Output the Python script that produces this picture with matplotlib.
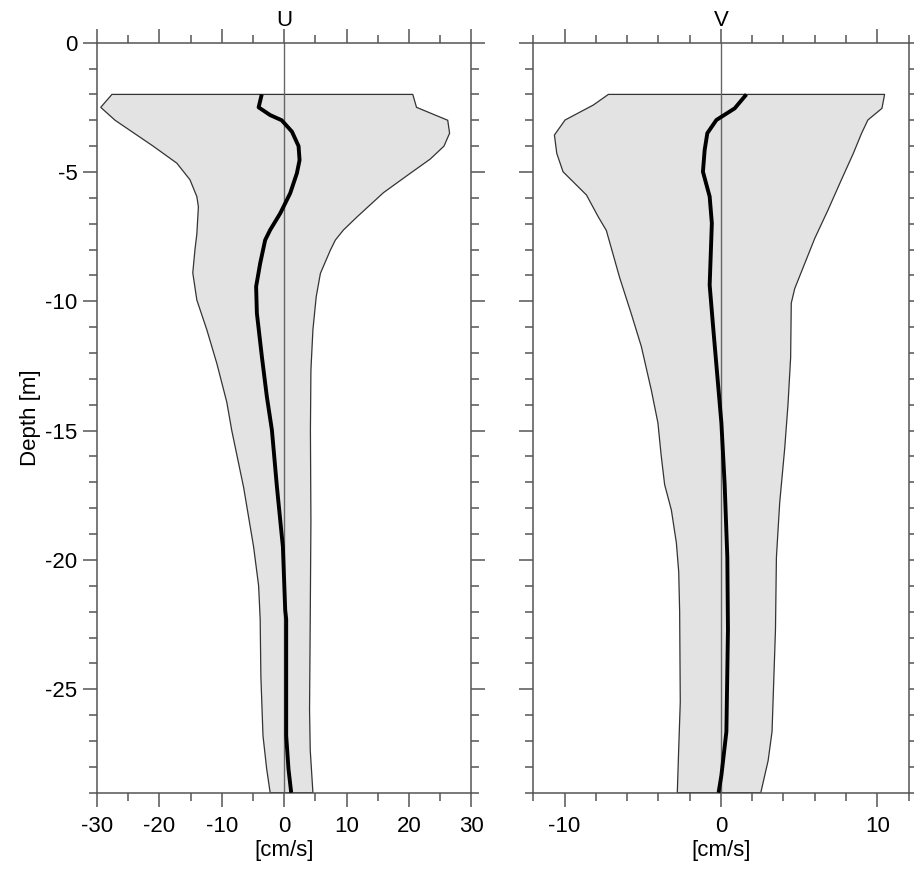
import numpy as np
import matplotlib
matplotlib.use("Agg")
import matplotlib.pyplot as plt
from matplotlib.ticker import MultipleLocator

# ---------------------------- data ----------------------------
# U component [cm/s]
u_min_depth = [-2, -2.5, -3.0, -4.0, -4.66, -5.3, -5.95, -6.35, -7.4, -8.0, -8.9, -9.95,
               -11.1, -12.4, -13.9, -15.0, -17.2, -19.5, -21.0, -22.3, -24.5, -26.8, -28.1, -29]
u_min = [-27.6, -29.4, -27.1, -21.0, -17.2, -15.1, -14.0, -13.75, -14.0, -14.3, -14.65, -14.0,
         -12.4, -10.8, -9.2, -8.4, -6.5, -4.9, -4.1, -3.85, -3.74, -3.4, -2.8, -2.25]

u_max_depth = [-2, -2.5, -3.0, -3.5, -4.0, -4.5, -5.05, -5.8, -6.73, -7.24, -7.63, -8.02,
               -8.92, -9.82, -11.1, -12.66, -15.0, -18.5, -22.3, -25.8, -27.35, -29]
u_max = [20.6, 21.2, 26.2, 26.5, 25.6, 23.4, 20.2, 15.9, 11.7, 9.5, 8.2, 7.4,
         5.8, 5.13, 4.6, 4.28, 4.2, 4.28, 4.17, 4.06, 4.17, 4.6]

u_mean_depth = [-2, -2.5, -2.8, -3.0, -3.44, -4.0, -4.54, -5.05, -5.82, -6.6, -7.24, -7.63,
                -8.53, -9.43, -10.46, -12.14, -13.69, -14.98, -17.17, -19.5, -21.94, -22.3,
                -26.8, -28.1, -29]
u_mean = [-3.6, -4.1, -2.25, -0.4, 1.24, 2.3, 2.46, 2.03, 0.96, -0.64, -2.25, -3.05,
          -3.85, -4.5, -4.38, -3.58, -2.78, -1.97, -1.17, -0.21, 0.16, 0.32,
          0.32, 0.69, 1.12]

# V component [cm/s]
v_min_depth = [-2, -2.41, -2.99, -3.57, -4.28, -4.99, -5.89, -6.73, -7.26, -9.08, -10.49,
               -11.75, -13.44, -14.7, -15.97, -17.09, -18.07, -19.34, -20.46, -22.0, -25.5,
               -27.3, -29]
v_min = [-7.2, -8.16, -9.97, -10.65, -10.5, -10.1, -8.6, -7.85, -7.33, -6.48, -5.73,
         -5.09, -4.45, -4.03, -3.82, -3.6, -3.17, -2.85, -2.7, -2.64, -2.6,
         -2.7, -2.79]

v_max_depth = [-2, -2.54, -2.99, -3.5, -4.28, -5.31, -6.47, -7.57, -9.51, -10.07, -12.17,
               -14.0, -15.69, -17.79, -19.9, -22.7, -26.64, -27.76, -29]
v_max = [10.47, 10.3, 9.4, 9.0, 8.47, 7.7, 6.85, 6.0, 4.72, 4.5, 4.46,
         4.29, 4.08, 3.76, 3.55, 3.49, 3.27, 3.02, 2.55]

v_mean_depth = [-2, -2.54, -2.99, -3.5, -4.15, -4.99, -5.95, -6.98, -9.37, -10.91, -12.88,
                -14.7, -17.09, -19.9, -22.7, -26.64, -28.33, -29]
v_mean = [1.63, 0.88, -0.29, -0.87, -1.04, -1.15, -0.72, -0.58, -0.72, -0.51, -0.23,
          0.03, 0.24, 0.41, 0.45, 0.35, 0.03, -0.15]

panels = [
    ("U", u_min_depth, u_min, u_max_depth, u_max, u_mean_depth, u_mean, 30, 10, 5),
    ("V", v_min_depth, v_min, v_max_depth, v_max, v_mean_depth, v_mean, 12, 10, 2),
]

plt.rcParams['font.family'] = ['Liberation Sans', 'DejaVu Sans']
plt.rcParams['font.size'] = 16
plt.rcParams['axes.unicode_minus'] = False

fig = plt.figure(figsize=(9.14, 8.71), dpi=100)
axes = [fig.add_axes([0.1061, 0.0899, 0.4097, 0.8611]),
        fig.add_axes([0.5835, 0.0899, 0.4105, 0.8611])]

spine_col = '#555555'

for ax, (name, dmin, xmin, dmax, xmax, dmean, xmean, lim, major, minor) in zip(axes, panels):
    #------------------------------ envelope + mean ------------------------------
    poly_x = list(xmin) + list(xmax[::-1])
    poly_y = list(dmin) + list(dmax[::-1])
    ax.fill(poly_x, poly_y, facecolor='#e3e3e3', edgecolor='#333333', linewidth=0.9, zorder=1)
    ax.axvline(0, color='#666666', linewidth=1.0, zorder=2)
    ax.plot(xmean, dmean, color='black', linewidth=2.8, solid_joinstyle='round',
            solid_capstyle='butt', zorder=3)

    ax.set_xlim(-lim, lim)
    ax.set_ylim(-29, 0)
    ax.xaxis.set_major_locator(MultipleLocator(major))
    ax.xaxis.set_minor_locator(MultipleLocator(minor))
    ax.yaxis.set_major_locator(MultipleLocator(5))
    ax.yaxis.set_minor_locator(MultipleLocator(1))

    ax.tick_params(which='both', direction='out', top=True, right=True,
                   color=spine_col, width=1.1, labelsize=16, labelcolor='black')
    ax.tick_params(which='major', length=10)
    ax.tick_params(which='minor', length=5.5)
    ax.tick_params(axis='x', which='major', pad=7)
    ax.tick_params(axis='y', which='major', pad=4)
    for sp in ax.spines.values():
        sp.set_color(spine_col)
        sp.set_linewidth(1.1)

    ax.set_xlabel("[cm/s]", fontsize=16, labelpad=2)
    ax.text(0.5, 1.015, name, transform=ax.transAxes, ha='center', va='bottom', fontsize=16)

axes[0].set_ylabel("Depth [m]", fontsize=16, labelpad=3)
axes[1].tick_params(labelleft=False)

fig.savefig("out.png", dpi=100)
